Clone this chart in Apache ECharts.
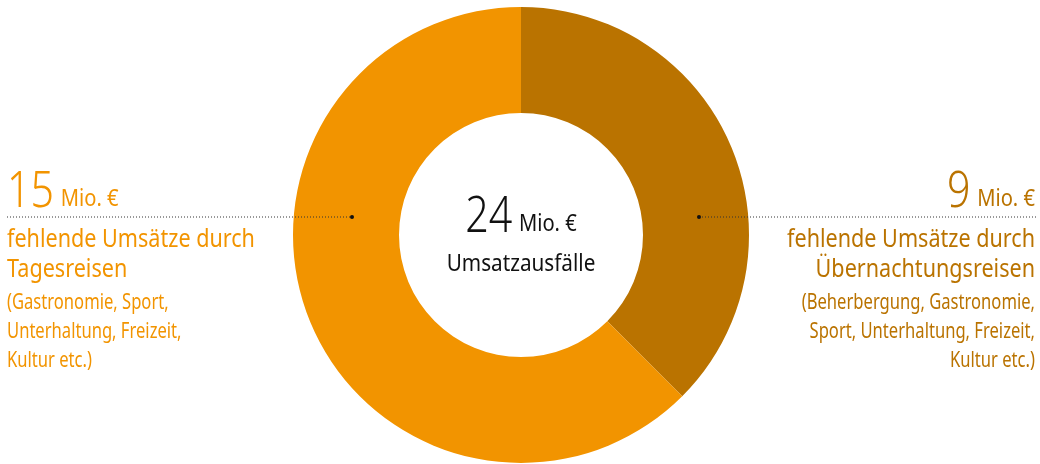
<!DOCTYPE html>
<html>
<head>
<meta charset="utf-8">
<script src="https://cdn.jsdelivr.net/npm/echarts@6/dist/echarts.min.js"></script>
<style>
  html, body { margin: 0; padding: 0; background: #fff; }
  #main { width: 1040px; height: 464px; }
</style>
</head>
<body>
<div id="main"></div>
<script>
// Daten
var categories = ['Übernachtungsreisen', 'Tagesreisen'];
var values = [9, 15];
var total = 24;
var colors = ['#BA7300', '#F29400'];

var leftLines = ['fehlende Umsätze durch', 'Tagesreisen'];
var leftSmall = ['(Gastronomie, Sport,', 'Unterhaltung, Freizeit,', 'Kultur etc.)'];
var rightLines = ['fehlende Umsätze durch', 'Übernachtungsreisen'];
var rightSmall = ['(Beherbergung, Gastronomie,', 'Sport, Unterhaltung, Freizeit,', 'Kultur etc.)'];

var FONT = '"Noto Sans", sans-serif';

// schmale Schrift nachbilden: scaleX
function textLine(x, baseline, text, size, color, align, sx) {
    return {
        type: 'text',
        x: x,
        y: baseline - size * 0.32,
        z: 10,
        scaleX: sx,
        style: {
            text: text,
            font: size + 'px ' + FONT,
            fill: color,
            align: align,
            verticalAlign: 'middle'
        }
    };
}

function bigNumber(x, baseline, num, color, align) {
    return {
        type: 'text',
        x: x,
        y: baseline + 49 * 0.3 - 4,
        z: 10,
        scaleX: 0.84,
        style: {
            text: '{a|' + num + '}{s| }{b|Mio. €}',
            fill: color,
            align: align,
            verticalAlign: 'bottom',
            rich: {
                a: { fontSize: 49, fontFamily: FONT, fontWeight: 300, fill: color, verticalAlign: 'bottom' },
                s: { fontSize: 25, fontFamily: FONT, width: 8, verticalAlign: 'bottom', padding: [0, 0, 7, 0] },
                b: { fontSize: 24, fontFamily: FONT, fill: color, verticalAlign: 'bottom', padding: [0, 0, 7, 0] }
            }
        }
    };
}

var graphics = [];
// linke Seite
graphics.push(bigNumber(7, 207, values[1], colors[1], 'left'));
graphics.push({
    type: 'line',
    z: 10,
    shape: { x1: 7, y1: 217, x2: 352, y2: 217 },
    style: { stroke: '#333', lineWidth: 1, lineDash: [1, 2] }
});
graphics.push({ type: 'circle', z: 10, shape: { cx: 352, cy: 217, r: 2 }, style: { fill: '#111' } });
leftLines.forEach(function (t, i) {
    graphics.push(textLine(7, 248 + i * 30, t, 26, colors[1], 'left', 0.83));
});
leftSmall.forEach(function (t, i) {
    graphics.push(textLine(7, 310 + i * 29, t, 21, colors[1], 'left', 0.79));
});

// rechte Seite
graphics.push(bigNumber(1035, 207, values[0], colors[0], 'right'));
graphics.push({
    type: 'line',
    z: 10,
    shape: { x1: 699, y1: 217, x2: 1036, y2: 217 },
    style: { stroke: '#333', lineWidth: 1, lineDash: [1, 2] }
});
graphics.push({ type: 'circle', z: 10, shape: { cx: 699, cy: 217, r: 2 }, style: { fill: '#111' } });
rightLines.forEach(function (t, i) {
    graphics.push(textLine(1035, 248 + i * 30, t, 26, colors[0], 'right', 0.83));
});
rightSmall.forEach(function (t, i) {
    graphics.push(textLine(1035, 310 + i * 29, t, 21, colors[0], 'right', 0.79));
});

// Mitte
graphics.push(bigNumber(521, 232, total, '#111', 'center'));
graphics.push(textLine(521, 272, 'Umsatzausfälle', 23, '#111', 'center', 0.9));

var myChart = echarts.init(document.getElementById('main'));
var option = {
    animation: false,
    series: [
        {
            name: 'Umsatzausfälle',
            type: 'pie',
            center: [521, 235],
            radius: [122, 228],
            startAngle: 90,
            clockwise: true,
            label: { show: false },
            labelLine: { show: false },
            itemStyle: { borderWidth: 0 },
            data: categories.map(function (c, i) {
                return { name: c, value: values[i], itemStyle: { color: colors[i] } };
            })
        }
    ],
    graphic: graphics
};
myChart.setOption(option, true);
</script>
</body>
</html>
